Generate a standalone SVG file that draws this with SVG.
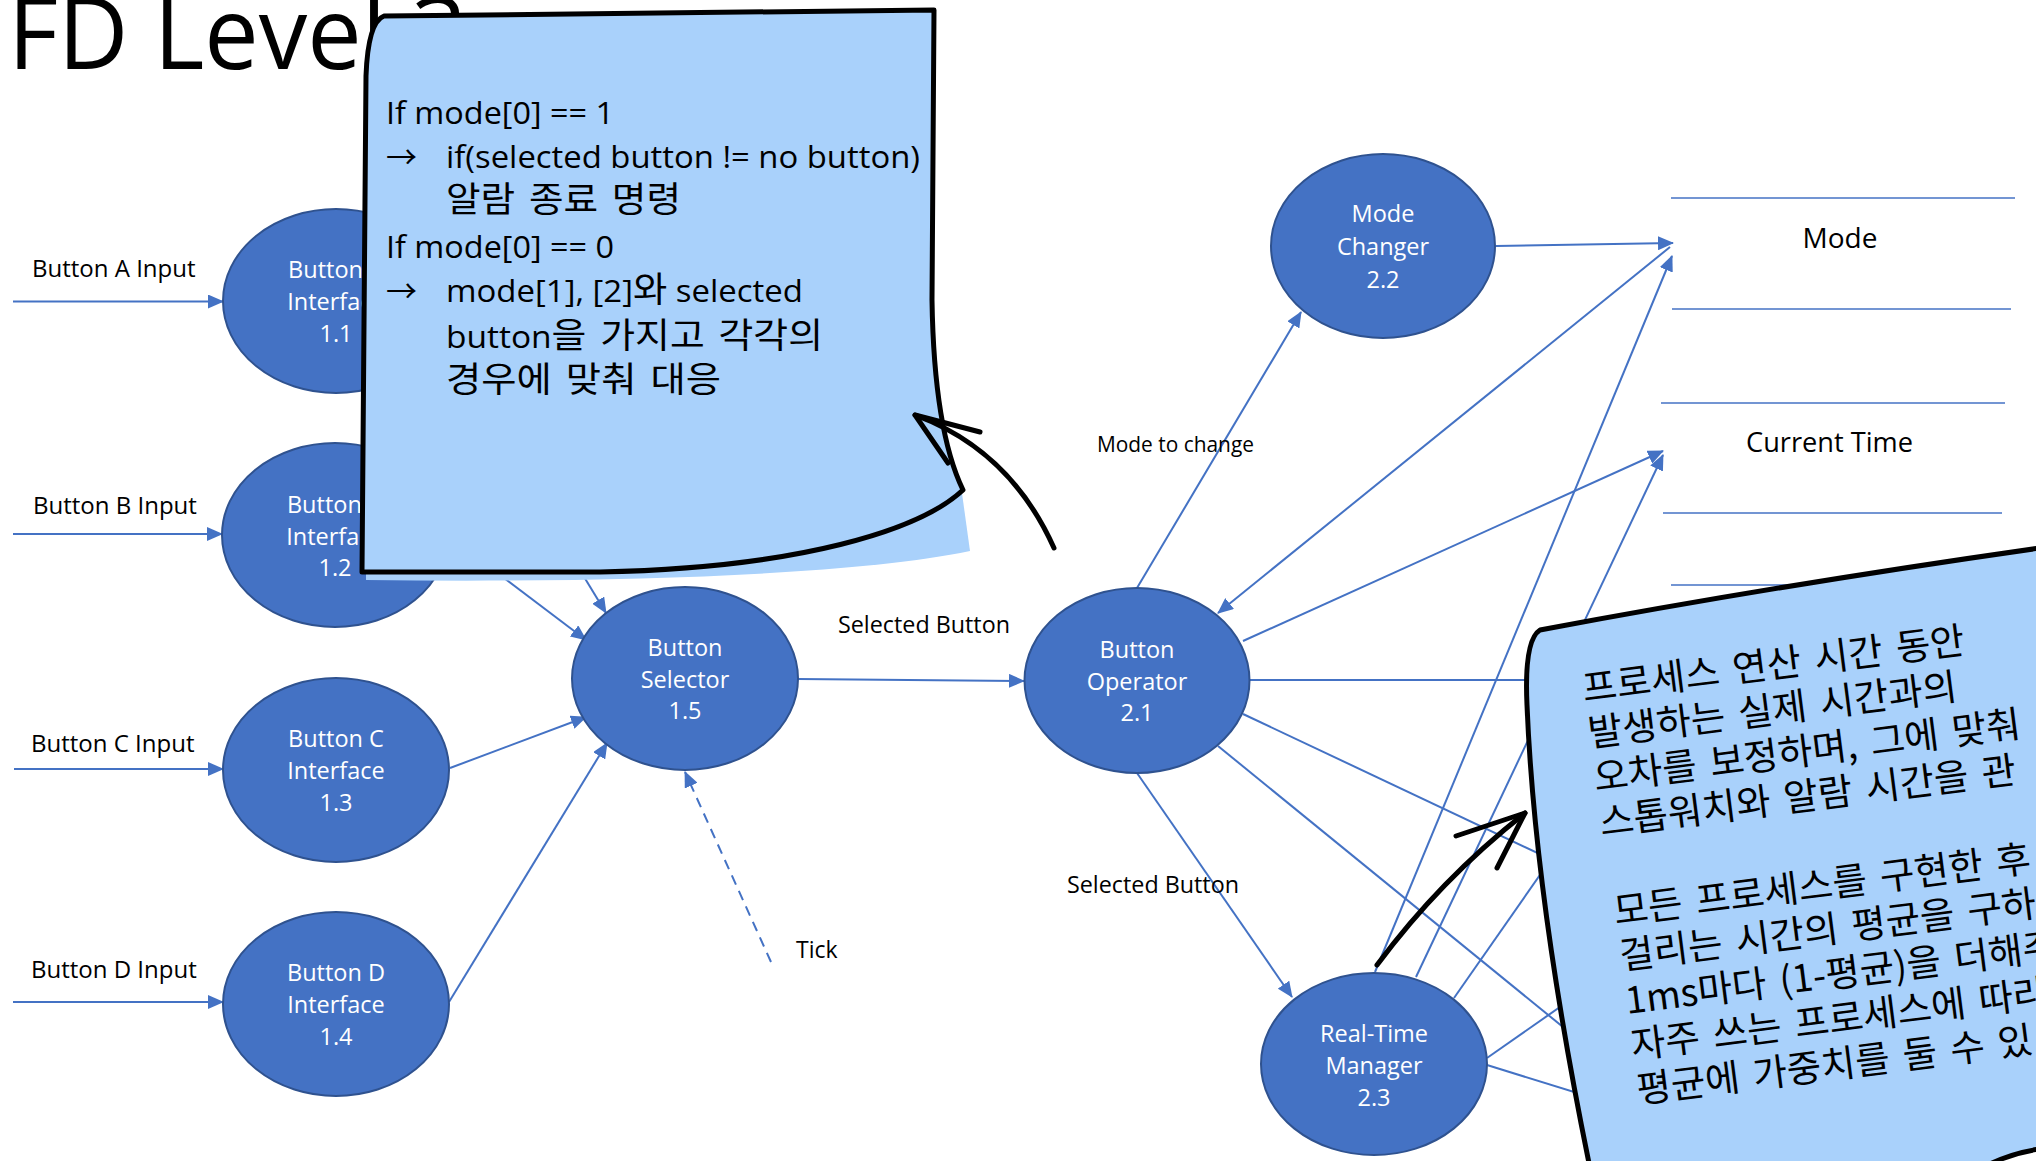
<svg xmlns="http://www.w3.org/2000/svg" width="2036" height="1161" viewBox="0 0 2036 1161">
<defs>
<style>
.lbl{font-family:"Open Sans","Liberation Sans",sans-serif;fill:#000}
.nt{font-family:"Open Sans","Liberation Sans",sans-serif;font-size:23.5px;fill:#fff;text-anchor:middle}
.node{fill:#4472C4;stroke:#2F528F;stroke-width:2}
.cn{stroke:#4472C4;stroke-width:2;fill:none}
.arr{marker-end:url(#ah)}
.store{stroke:#4472C4;stroke-width:1.5}
.note{fill:#A9D1FB;stroke:#000;stroke-width:5;stroke-linejoin:round}
.ink{fill:none;stroke:#000;stroke-width:5;stroke-linecap:round;stroke-linejoin:round}
.nx{font-family:"Open Sans","Noto Sans CJK KR",sans-serif;font-size:31px;fill:#000}
.kr{font-family:"Noto Sans CJK KR",sans-serif;font-size:35px;word-spacing:5px}
.kr2{font-family:"Noto Sans CJK KR","Open Sans",sans-serif;font-size:37.5px;word-spacing:5px;fill:#000}
</style>
<marker id="ah" viewBox="0 0 16 14" refX="15" refY="7" markerWidth="16" markerHeight="14" markerUnits="userSpaceOnUse" orient="auto">
<path d="M0,0 L16,7 L0,14 z" fill="#4472C4"/>
</marker>
</defs>
<rect width="2036" height="1161" fill="#fff"/>

<text id="title" class="lbl" x="8" y="69" font-size="101" textLength="459" lengthAdjust="spacingAndGlyphs">FD Level 3</text>

<g id="connectors">
<line class="cn arr" stroke-width="2.5" x1="13" y1="301.5" x2="223" y2="301.5"/>
<line class="cn arr" stroke-width="2.5" x1="13" y1="534" x2="222" y2="534"/>
<line class="cn arr" stroke-width="2.5" x1="14" y1="769" x2="223" y2="769"/>
<line class="cn arr" stroke-width="2.5" x1="13" y1="1002" x2="223" y2="1002"/>
<line class="cn arr" x1="440" y1="340" x2="606" y2="613"/>
<line class="cn arr" x1="447" y1="535" x2="586" y2="640"/>
<line class="cn arr" x1="450" y1="768" x2="586" y2="717"/>
<line class="cn arr" x1="449" y1="1002" x2="607" y2="743"/>
<line class="cn arr" x1="798" y1="679" x2="1024" y2="681"/>
<line class="cn arr" x1="771" y1="962" x2="685" y2="772" stroke-dasharray="10,7"/>
<line class="cn arr" x1="1137" y1="588" x2="1301" y2="312"/>
<line class="cn arr" x1="1137" y1="773" x2="1292" y2="997"/>
<line class="cn arr" x1="1496" y1="246" x2="1673" y2="243"/>
<line class="cn arr" x1="1375" y1="972" x2="1672" y2="256"/>
<line class="cn arr" x1="1670" y1="247" x2="1218" y2="613"/>
<line class="cn arr" x1="1243" y1="641" x2="1663" y2="451"/>
<line class="cn arr" x1="1416" y1="977" x2="1663" y2="455"/>
<line class="cn" x1="1250" y1="680" x2="1560" y2="680"/>
<line class="cn" x1="1243" y1="714" x2="1580" y2="873"/>
<line class="cn" x1="1218" y1="746" x2="1590" y2="1049"/>
<line class="cn" x1="1454" y1="998" x2="1570" y2="832"/>
<line class="cn" x1="1487" y1="1058" x2="1590" y2="986"/>
<line class="cn" x1="1487" y1="1065" x2="1600" y2="1100"/>
<text class="lbl" x="32" y="277" font-size="24">Button A Input</text>
<text class="lbl" x="33" y="514" font-size="24">Button B Input</text>
<text class="lbl" x="31" y="752" font-size="24">Button C Input</text>
<text class="lbl" x="31" y="978" font-size="24">Button D Input</text>
<text class="lbl" x="838" y="633" font-size="23" textLength="172" lengthAdjust="spacingAndGlyphs">Selected Button</text>
<text class="lbl" x="796" y="958" font-size="23">Tick</text>
<text class="lbl" x="1097" y="452" font-size="21" textLength="157" lengthAdjust="spacingAndGlyphs">Mode to change</text>
<text class="lbl" x="1067" y="893" font-size="23" textLength="172" lengthAdjust="spacingAndGlyphs">Selected Button</text>
</g>

<g id="n1-1"><ellipse class="node" cx="336" cy="301" rx="113" ry="92"/><text class="nt"><tspan x="336" y="278">Button A</tspan><tspan x="336" y="310">Interface</tspan><tspan x="336" y="342">1.1</tspan></text></g>
<g id="n1-2"><ellipse class="node" cx="335" cy="535" rx="113" ry="92"/><text class="nt"><tspan x="335" y="513">Button B</tspan><tspan x="335" y="545">Interface</tspan><tspan x="335" y="576">1.2</tspan></text></g>
<g id="n1-3"><ellipse class="node" cx="336" cy="770" rx="113" ry="92"/><text class="nt"><tspan x="336" y="747">Button C</tspan><tspan x="336" y="779">Interface</tspan><tspan x="336" y="811">1.3</tspan></text></g>
<g id="n1-4"><ellipse class="node" cx="336" cy="1004" rx="113" ry="92"/><text class="nt"><tspan x="336" y="981">Button D</tspan><tspan x="336" y="1013">Interface</tspan><tspan x="336" y="1045">1.4</tspan></text></g>
<g id="n1-5"><ellipse class="node" cx="685" cy="678.5" rx="113" ry="91.5"/><text class="nt"><tspan x="685" y="656">Button</tspan><tspan x="685" y="688">Selector</tspan><tspan x="685" y="719">1.5</tspan></text></g>
<g id="n2-1"><ellipse class="node" cx="1137" cy="680.5" rx="112.5" ry="92.5"/><text class="nt"><tspan x="1137" y="658">Button</tspan><tspan x="1137" y="690">Operator</tspan><tspan x="1137" y="721">2.1</tspan></text></g>
<g id="n2-2"><ellipse class="node" cx="1383" cy="246" rx="112" ry="92"/><text class="nt"><tspan x="1383" y="222">Mode</tspan><tspan x="1383" y="255">Changer</tspan><tspan x="1383" y="288">2.2</tspan></text></g>
<g id="n2-3"><ellipse class="node" cx="1374" cy="1064" rx="113" ry="91"/><text class="nt"><tspan x="1374" y="1042">Real-Time</tspan><tspan x="1374" y="1074">Manager</tspan><tspan x="1374" y="1106">2.3</tspan></text></g>

<g id="store-mode">
<line class="store" x1="1671" y1="198" x2="2015" y2="198"/>
<line class="store" x1="1672" y1="309" x2="2011" y2="309"/>
<text class="lbl" x="1840" y="248" font-size="28" text-anchor="middle">Mode</text>
</g>
<g id="store-time">
<line class="store" x1="1661" y1="403" x2="2005" y2="403"/>
<line class="store" x1="1663" y1="513" x2="2002" y2="513"/>
<text class="lbl" x="1746" y="452" font-size="28" textLength="167" lengthAdjust="spacingAndGlyphs">Current Time</text>
</g>
<g id="store-3">
<line class="store" x1="1671" y1="585" x2="1900" y2="585"/>
</g>

<g id="note1">
<path fill="#A9D1FB" d="M366,566 L366,580 C600,583 850,576 970,551 L961,486 Z"/>
<path class="note" d="M366,76 Q368,22 384,16 L934,10 L932,300 Q934,430 963,490 C920,530 800,568 600,572 L362,572 Z"/>
<text class="nx" x="386" y="124" textLength="228" lengthAdjust="spacingAndGlyphs">If mode[0] == 1</text>
<text class="nx" x="386" y="168">→</text>
<text class="nx" x="446" y="168" textLength="474" lengthAdjust="spacingAndGlyphs">if(selected button != no button)</text>
<text class="nx" x="446" y="212" textLength="235" lengthAdjust="spacingAndGlyphs"><tspan class="kr">알람 종료 명령</tspan></text>
<text class="nx" x="386" y="258" textLength="228" lengthAdjust="spacingAndGlyphs">If mode[0] == 0</text>
<text class="nx" x="386" y="302">→</text>
<text class="nx" x="446" y="302" textLength="357" lengthAdjust="spacingAndGlyphs">mode[1], [2]<tspan class="kr">와</tspan> selected</text>
<text class="nx" x="446" y="348" textLength="377" lengthAdjust="spacingAndGlyphs">button<tspan class="kr">을 가지고 각각의</tspan></text>
<text class="nx" x="446" y="392" textLength="275" lengthAdjust="spacingAndGlyphs"><tspan class="kr">경우에 맞춰 대응</tspan></text>
</g>

<g id="note2">
<path class="note" d="M1527,705 Q1524,640 1540,630 Q1780,585 2040,548 L2040,1149 Q2010,1153 1982,1168 L1590,1168 Q1535,900 1527,705 Z"/>
<g class="kr2" transform="translate(1584,702) rotate(-7.3)">
<text x="0" y="0">프로세스 연산 시간 동안</text>
<text x="0" y="45">발생하는 실제 시간과의</text>
<text x="0" y="90">오차를 보정하며, 그에 맞춰</text>
<text x="0" y="135">스톱워치와 알람 시간을 관</text>
<text x="3" y="225">모든 프로세스를 구현한 후</text>
<text x="3" y="270">걸리는 시간의 평균을 구하</text>
<text x="3" y="315">1ms마다 (1-평균)을 더해주</text>
<text x="3" y="360">자주 쓰는 프로세스에 따라</text>
<text x="3" y="405">평균에 가중치를 둘 수 있</text>
</g>
</g>

<g id="ink-arrows">
<path class="ink" d="M1054,548 Q1010,450 915,415"/>
<path class="ink" d="M980,432 L915,415 L948,463"/>
<path class="ink" d="M1377,965 Q1440,880 1525,813"/>
<path class="ink" d="M1456,836 L1525,813 L1497,868"/>
</g>
</svg>
